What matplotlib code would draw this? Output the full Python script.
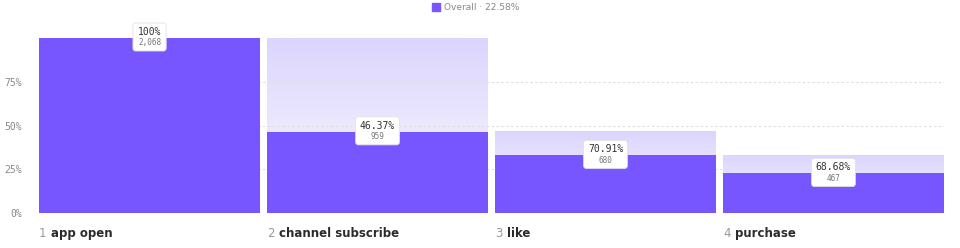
import matplotlib.pyplot as plt
import numpy as np
from matplotlib.patches import FancyBboxPatch, Rectangle
from matplotlib.colors import LinearSegmentedColormap

# funnel data
steps = ['app open', 'channel subscribe', 'like', 'purchase']
counts = [2068, 959, 680, 467]
step_conv = ['100%', '46.37%', '70.91%', '68.68%']
overall = '22.58%'
yticks = [0, 25, 50, 75]

purple = '#7856FF'
pct = [c / counts[0] * 100 for c in counts]

fig = plt.figure(figsize=(9.6, 2.48), dpi=100)
ax = fig.add_axes([39 / 960, 35 / 248, 905 / 960, 175 / 248])
ax.set_xlim(-0.485, 3.485)
ax.set_ylim(0, 100)

px_x = 1 / 228.0        # data units per pixel, x
px_y = 100 / 175.0      # data units per pixel, y
width = 221 * px_x

grad = LinearSegmentedColormap.from_list('g', ['#fbfaff', '#dcd5fd'])
ramp = np.linspace(0, 1, 100).reshape(-1, 1)

for i in range(len(steps)):
    # previous-step ghost bar with gradient
    if i > 0:
        top = pct[i - 1]
        ax.imshow(ramp, cmap=grad, aspect='auto', origin='lower',
                  extent=(i - width / 2, i + width / 2, 0, top), zorder=1)
    ax.add_patch(Rectangle((i - width / 2, 0), width, pct[i], color=purple,
                           lw=0, zorder=3))

    # label box
    w = (len(step_conv[i]) * 5.3 + 12) * px_x
    h = 28 * px_y
    ax.add_patch(FancyBboxPatch((i - w / 2, pct[i] - h / 2 + 1 * px_y), w, h,
                                boxstyle='round,pad=0,rounding_size=0.012',
                                mutation_aspect=h / (28 * px_x),
                                fc='white', ec='#e2e2e2', lw=0.6, zorder=5,
                                clip_on=False))
    ax.text(i, pct[i] + 6 * px_y, step_conv[i], ha='center', va='center',
            family='DejaVu Sans Mono', fontsize=7, color='#333333', zorder=6,
            clip_on=False)
    ax.text(i, pct[i] - 5 * px_y, f'{counts[i]:,}', ha='center', va='center',
            family='DejaVu Sans Mono', fontsize=5.5, color='#777777', zorder=6)

    # step name under the bar
    ax.annotate(str(i + 1), (i - width / 2, 0), xytext=(0, -14.5),
                textcoords='offset points', ha='left', va='center',
                fontsize=8.5, color='#999999', annotation_clip=False)
    ax.annotate(steps[i], (i - width / 2, 0), xytext=(8.5, -14.5),
                textcoords='offset points', ha='left', va='center',
                fontsize=8.5, fontweight='bold', color='#2b2b2b',
                annotation_clip=False)

for y in yticks[1:]:
    ax.axhline(y, color='#dddddd', lw=0.7, ls=(0, (2.5, 2.5)), zorder=2)

ax.set_yticks(yticks)
ax.set_yticklabels([f'{y}%' for y in yticks], family='DejaVu Sans Mono',
                   fontsize=7, color='#888888')
ax.tick_params(axis='y', length=0, pad=12)
ax.set_xticks([])
for s in ax.spines.values():
    s.set_visible(False)

# legend at the top
fig.patches.append(Rectangle((432 / 960, 237 / 248), 8 / 960, 8 / 248,
                             transform=fig.transFigure, color=purple))
fig.text(444 / 960, 241 / 248, 'Overall \u00b7 ' + overall, ha='left',
         va='center', fontsize=6.5, color='#888888')

fig.savefig('out.png', dpi=100)
